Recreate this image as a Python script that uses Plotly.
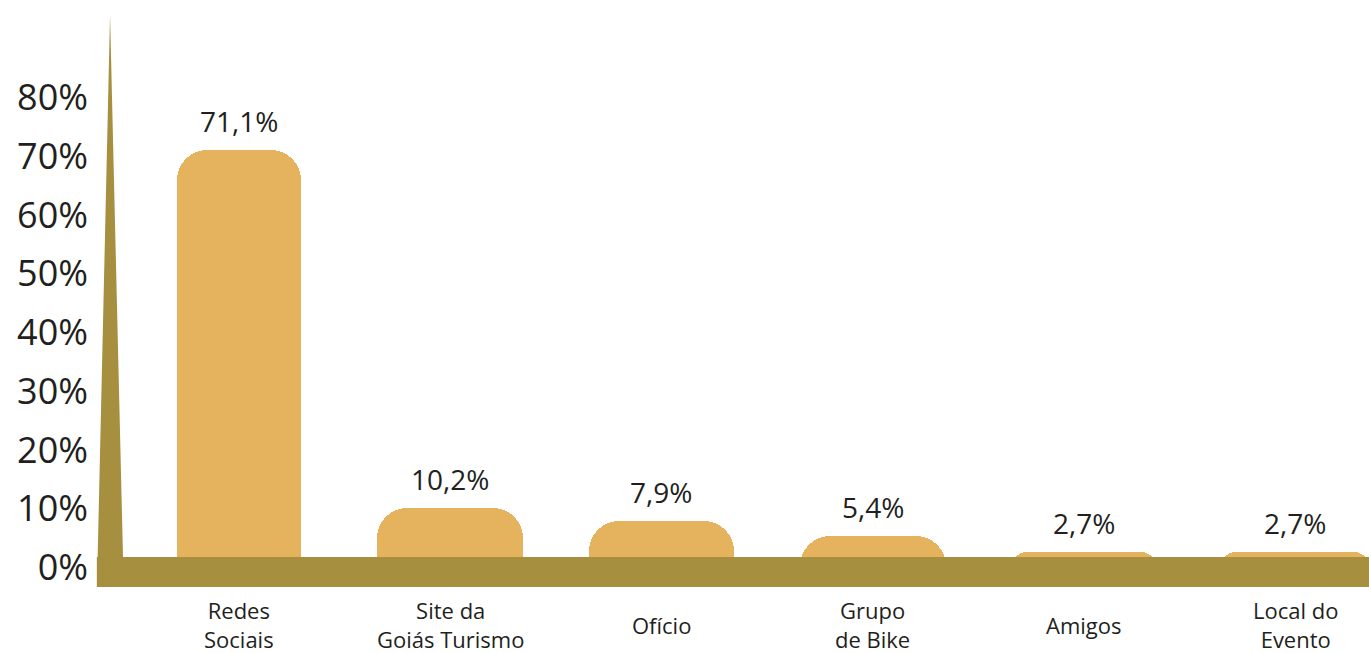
import plotly.graph_objects as go

# data
categorias = ["Redes<br>Sociais", "Site da<br>Goiás Turismo", "Ofício",
              "Grupo<br>de Bike", "Amigos", "Local do<br>Evento"]
percentuais = [71.1, 10.2, 7.9, 5.4, 2.7, 2.7]
ticks_y = [0, 10, 20, 30, 40, 50, 60, 70, 80]

COR_BARRA = "#E5B35E"
COR_BASE = "#A78F40"
COR_TEXTO = "#231F20"
FONTE = "Open Sans"

x_idx = list(range(len(categorias)))
larguras = [0.59, 0.69, 0.69, 0.69, 0.68, 0.7]

fig = go.Figure()
fig.add_trace(go.Bar(
    x=x_idx, y=percentuais, width=larguras,
    marker=dict(color=COR_BARRA, cornerradius=30, line=dict(width=0)),
    hoverinfo="skip"
))

# value labels above the bars
for i, v in zip(x_idx, percentuais):
    fig.add_annotation(x=i, y=v, text=f"{v:.1f}".replace(".", ",") + "%",
                       showarrow=False, yanchor="bottom", yshift=8,
                       font=dict(family=FONTE, size=28, color=COR_TEXTO))

# category labels under the band, vertically centred
for i, c in zip(x_idx, categorias):
    fig.add_annotation(x=i, y=-0.042, yref="paper", text=c, showarrow=False,
                       yanchor="middle", font=dict(family=FONTE, size=22, color=COR_TEXTO))

# thick base band and the thin spike on the left
fig.add_shape(type="rect", xref="paper", yref="y", x0=-0.021, x1=1.0, y0=-3.32, y1=1.79,
              fillcolor=COR_BASE, line=dict(width=0), layer="above")
fig.add_shape(type="path", xref="paper", yref="paper",
              path="M -0.0104 0.9915 L -0.0209 0.022 L 0 0.073 Z",
              fillcolor=COR_BASE, line=dict(width=0), layer="above")

fig.update_layout(
    width=1369, height=653,
    margin=dict(l=123, r=0, t=10, b=53),
    plot_bgcolor="white", paper_bgcolor="white",
    showlegend=False, bargap=0,
    xaxis=dict(range=[-0.549, 5.35], showticklabels=False, showgrid=False,
               zeroline=False, showline=False, fixedrange=True),
    yaxis=dict(range=[-5.53, 94.9], tickvals=ticks_y,
               ticktext=[f"{t}%" for t in ticks_y],
               showgrid=False, zeroline=False, showline=False,
               ticklabelstandoff=34,
               tickfont=dict(family=FONTE, size=36, color=COR_TEXTO)),
)

fig.write_html("out.html", config={"displayModeBar": False},
               post_script="document.body.style.margin='0';")
